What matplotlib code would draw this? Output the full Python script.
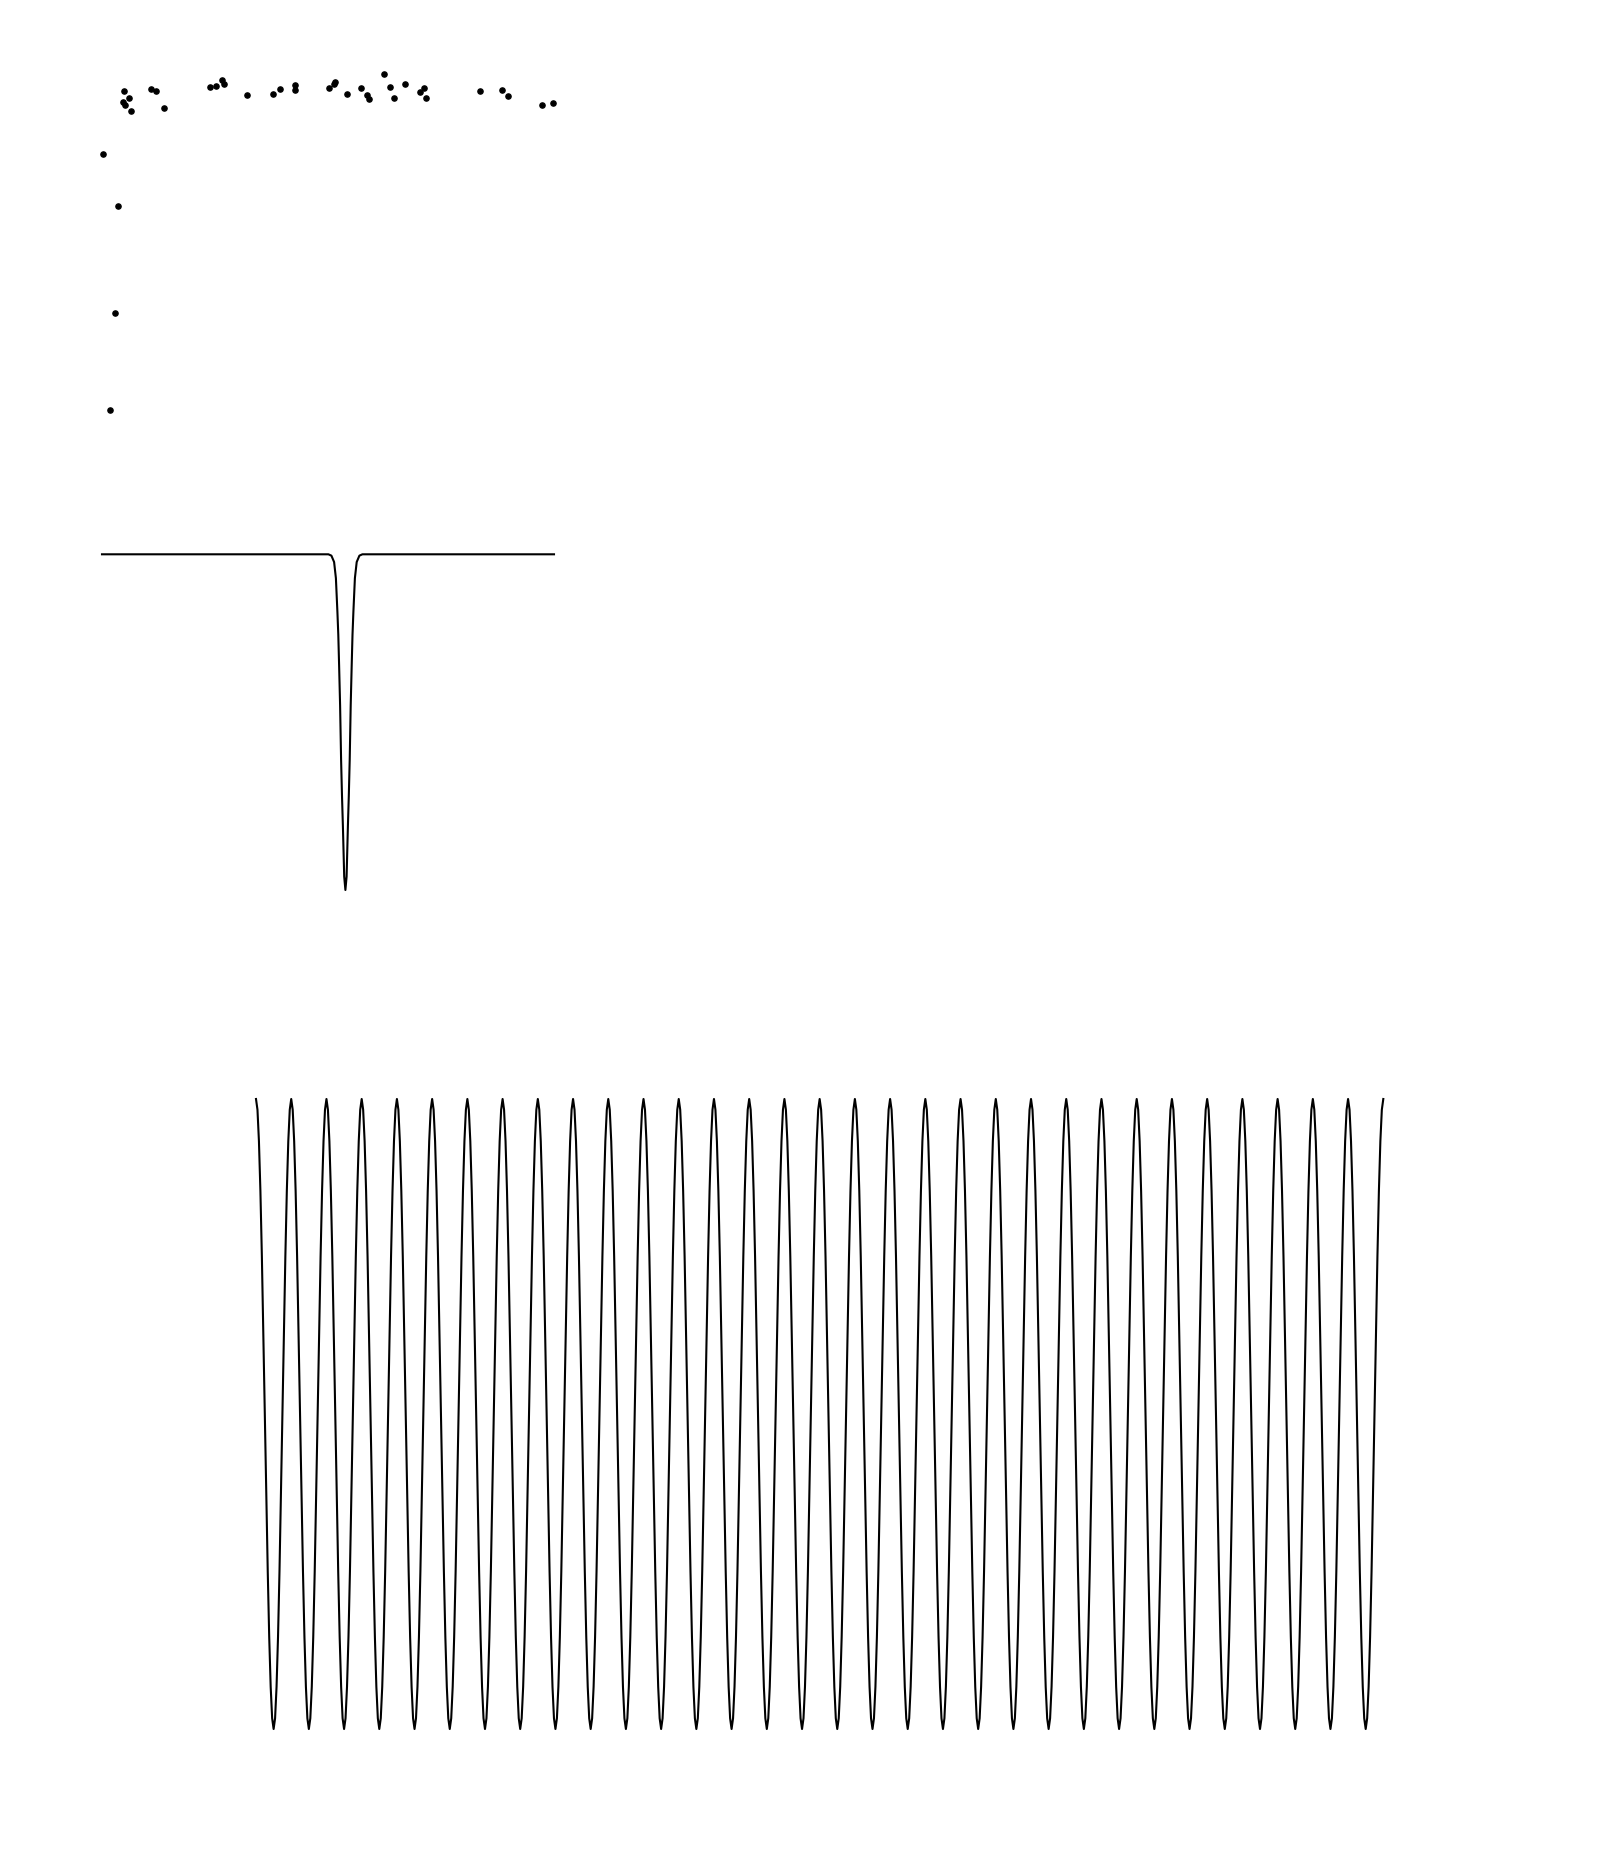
import matplotlib
matplotlib.use("Agg")
import matplotlib.pyplot as plt
import numpy as np

# --- scatter (top left) ---
scat_x = [0.0, 1.5, 1.2, 0.7, 2.1, 2.6, 2.0, 2.2, 2.8, 4.8, 5.3, 6.1, 10.7, 11.3,
          11.9, 12.1, 14.4, 17.0, 17.7, 19.2, 19.2, 22.6, 23.1, 23.2, 24.4, 25.8,
          26.4, 26.6, 28.1, 28.7, 29.1, 30.2, 31.7, 32.1, 32.3, 37.7, 39.9, 40.5,
          43.9, 45.0]
scat_y = [25.6, 20.4, 9.7, 0.0, 31.9, 31.2, 30.8, 30.5, 29.9, 32.1, 31.9, 30.2,
          32.3, 32.4, 33.0, 32.6, 31.5, 31.6, 32.1, 32.5, 32.0, 32.2, 32.6, 32.8,
          31.6, 32.2, 31.5, 31.1, 33.6, 32.3, 31.2, 32.6, 31.8, 32.2, 31.2, 31.9,
          32.0, 31.4, 30.5, 30.7]

# --- dip (middle left) ---
dip_x = [0.0, 22.64, 22.94, 23.21, 23.39, 23.54, 23.63, 23.71, 23.81, 23.91, 24.0,
         24.09, 24.22, 24.34, 24.46, 24.59, 24.68, 24.77, 24.87, 24.97, 25.05,
         25.14, 25.29, 25.47, 25.74, 26.04, 45.2]
dip_y = [1.0, 1.0, 0.996, 0.977, 0.929, 0.829, 0.76, 0.67, 0.55, 0.387, 0.28,
         0.19, 0.04, 0.0, 0.04, 0.19, 0.28, 0.387, 0.55, 0.67, 0.76,
         0.829, 0.929, 0.977, 0.996, 1.0, 1.0]

# --- oscillation (bottom) ---
n_cycles = 32
one_cycle = [1.0, 0.983, 0.933, 0.854, 0.75, 0.629, 0.5, 0.371, 0.25, 0.146, 0.067,
             0.017, 0.0, 0.017, 0.067, 0.146, 0.25, 0.371, 0.5, 0.629, 0.75,
             0.854, 0.933, 0.983]

W, H = 1600, 1860
fig = plt.figure(figsize=(16, 18.6), dpi=100)

def box(x0, x1, y0, y1):
    # pixel box (top-left origin) -> figure fraction
    return [x0 / W, 1 - y1 / H, (x1 - x0) / W, (y1 - y0) / H]

ax1 = fig.add_axes(box(103.3, 553.3, 74.3, 410.3))
ax1.scatter(scat_x, scat_y, s=14, c='black', clip_on=False)
ax1.set_xlim(min(scat_x), max(scat_x))
ax1.set_ylim(min(scat_y), max(scat_y))
ax1.axis('off')

ax2 = fig.add_axes(box(102, 554, 554.3, 890))
ax2.plot(dip_x, dip_y, c='black', lw=1.5, clip_on=False)
ax2.set_xlim(min(dip_x), max(dip_x))
ax2.set_ylim(0, 1)
ax2.axis('off')

wave = np.array(one_cycle * n_cycles + [one_cycle[0]])
t = np.arange(len(wave)) / len(one_cycle)
ax3 = fig.add_axes(box(256, 1383.3, 1099, 1729))
ax3.plot(t, wave, c='black', lw=1.5, clip_on=False)
ax3.set_xlim(0, n_cycles)
ax3.set_ylim(0, 1)
ax3.axis('off')

fig.savefig('out.png', dpi=100)
